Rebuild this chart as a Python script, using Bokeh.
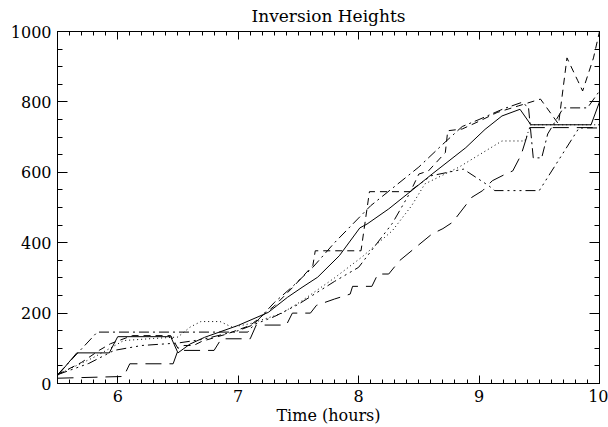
from bokeh.plotting import figure
from bokeh.models import Range1d, LinearAxis, FixedTicker
from bokeh.embed import file_html
from bokeh.resources import INLINE

# ---- data (time in hours, inversion height) ----
solid_t = [5.5, 5.66, 5.93, 6.0, 6.44, 6.5, 6.6, 6.72, 7.0, 7.25, 7.41, 7.53, 7.66, 7.84, 8.01, 8.07,
           8.25, 8.44, 8.61, 8.89, 9.05, 9.19, 9.34, 9.43, 9.93, 10.0]
solid_h = [22, 87, 87, 133, 133, 87, 112, 131, 165, 202, 245, 273, 302, 363, 442, 453,
           496, 548, 595, 670, 722, 760, 779, 735, 735, 800]

dot_t = [5.5, 5.8, 6.05, 6.3, 6.5, 6.6, 6.69, 6.85, 6.95, 7.1, 7.36, 7.53, 7.8, 8.03, 8.28, 8.44,
         8.55, 8.83, 9.19, 9.38, 9.43, 10.0]
dot_h = [25, 74, 122, 128, 132, 160, 176, 176, 160, 170, 199, 235, 300, 360, 434, 505,
         567, 614, 689, 689, 735, 735]

dash_t = [5.5, 5.7, 5.85, 5.94, 6.12, 6.44, 6.5, 6.55, 6.63, 6.7, 6.9, 7.1, 7.3, 7.45, 7.62, 7.64,
          8.02, 8.09, 8.43, 8.5, 8.58, 8.72, 8.74, 8.86, 9.0, 9.15, 9.33, 9.51, 9.66, 9.73, 9.82,
          9.86, 9.95, 10.0]
dash_h = [25, 60, 95, 113, 136, 136, 100, 108, 108, 120, 140, 165, 220, 272, 335, 377,
          377, 545, 545, 595, 604, 656, 718, 723, 745, 770, 789, 808, 737, 925, 860,
          831, 925, 1000]

dashdot_t = [5.5, 5.83, 7.08, 7.15, 7.3, 7.45, 7.62, 7.8, 8.0, 8.1, 8.3, 8.5, 8.7, 8.86, 9.0, 9.2,
             9.35, 9.41, 9.45, 9.52, 9.57, 9.7, 9.9, 10.0]
dashdot_h = [25, 146, 146, 175, 230, 275, 330, 400, 470, 505, 560, 615, 680, 730, 750, 780,
             798, 786, 641, 641, 709, 783, 783, 831]

dash3dot_t = [5.5, 5.76, 5.97, 6.2, 6.5, 6.7, 7.0, 7.3, 7.5, 7.8, 8.0, 8.28, 8.44, 8.6, 8.87, 9.08,
              9.13, 9.5, 9.83, 10.0]
dash3dot_h = [25, 57, 94, 108, 115, 125, 150, 190, 225, 290, 330, 455, 550, 590, 609, 562,
              548, 548, 726, 726]

longdash_t = [5.5, 6.05, 6.1, 6.46, 6.5, 6.8, 6.86, 7.1, 7.15, 7.4, 7.45, 7.6, 7.65, 7.8, 7.93,
              7.95, 8.11, 8.16, 8.25, 8.34, 8.45, 8.61, 8.7, 8.78, 8.94, 9.03, 9.11, 9.22, 9.28,
              9.35, 9.42, 10.0]
longdash_h = [15, 20, 56, 56, 94, 94, 127, 127, 166, 166, 200, 200, 222, 240, 254,
              276, 276, 311, 311, 349, 380, 425, 440, 458, 529, 548, 576, 595, 604,
              650, 727, 727]

x_major = [6, 7, 8, 9, 10]
y_major = [0, 200, 400, 600, 800, 1000]
title_text = "Inversion Heights"
xlabel_text = "Time (hours)"

FONT = "DejaVu Serif"

p = figure(width=608, height=427, output_backend="svg", toolbar_location=None,
           x_range=Range1d(5.5, 10), y_range=Range1d(0, 1000),
           min_border_left=57, min_border_right=9, min_border_top=31, min_border_bottom=44,
           background_fill_color="white", border_fill_color="white")
p.xgrid.visible = False
p.ygrid.visible = False
p.outline_line_color = "black"
p.outline_line_width = 1

p.title.text = title_text
p.title.align = "center"
p.title.vertical_align = "top"
p.title.text_font = FONT
p.title.text_font_style = "normal"
p.title.text_font_size = "17px"
p.title.text_color = "black"
p.title.text_line_height = 1.0
p.title.standoff = 8

x_minor = [5.5 + 0.1 * i for i in range(46)]
y_minor = [50 * i for i in range(21)]
xt = FixedTicker(ticks=x_major, minor_ticks=x_minor)
yt = FixedTicker(ticks=y_major, minor_ticks=y_minor)


def style(ax, major, minor, labels=True):
    ax.major_tick_in = major
    ax.major_tick_out = 0
    ax.minor_tick_in = minor
    ax.minor_tick_out = 0
    ax.major_tick_line_color = "black"
    ax.minor_tick_line_color = "black"
    ax.axis_line_color = "black"
    if labels:
        ax.major_label_text_font = FONT
        ax.major_label_text_font_size = "16px"
        ax.major_label_text_color = "black"
    else:
        ax.major_label_text_color = None
        ax.major_label_text_font_size = "1px"
        ax.major_label_standoff = 0


p.xaxis.ticker = xt
p.yaxis.ticker = yt
style(p.xaxis[0], 8, 4)
style(p.yaxis[0], 10, 5)
p.xaxis.major_label_standoff = 6
p.yaxis.major_label_standoff = 6
p.xaxis.axis_label = xlabel_text
p.xaxis.axis_label_text_font = FONT
p.xaxis.axis_label_text_font_style = "normal"
p.xaxis.axis_label_text_font_size = "16px"
p.xaxis.axis_label_text_color = "black"
p.xaxis.axis_label_standoff = 1

top = LinearAxis(ticker=xt)
style(top, 8, 4, labels=False)
p.add_layout(top, "above")
right = LinearAxis(ticker=yt)
style(right, 10, 5, labels=False)
p.add_layout(right, "right")

p.line(solid_t, solid_h, line_color="black", line_width=1)
p.line(dot_t, dot_h, line_color="black", line_width=1, line_dash="1 3")
p.line(dash_t, dash_h, line_color="black", line_width=1, line_dash="7 5")
p.line(dashdot_t, dashdot_h, line_color="black", line_width=1, line_dash="10 4 2 4")
p.line(dash3dot_t, dash3dot_h, line_color="black", line_width=1, line_dash="10 4 2 4 2 4 2 4")
p.line(longdash_t, longdash_h, line_color="black", line_width=1, line_dash="16 8")

open("out.html", "w").write(file_html(p, INLINE))
